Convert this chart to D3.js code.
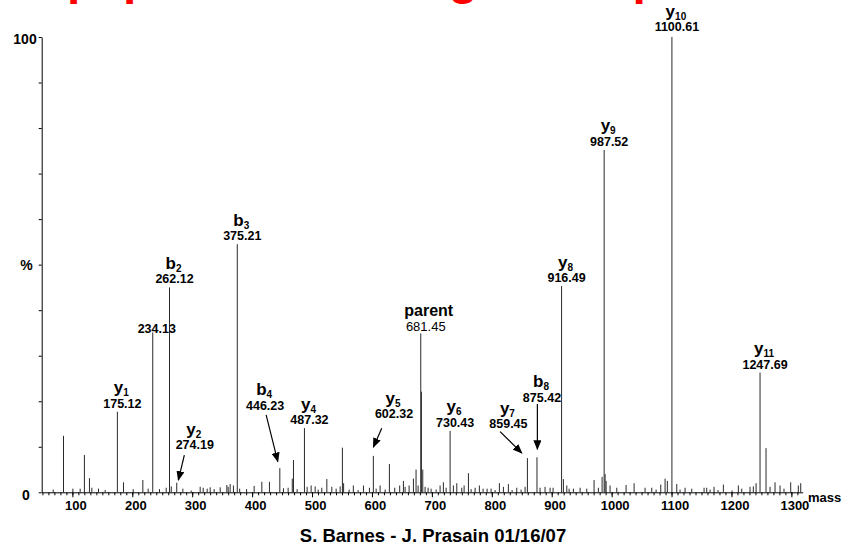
<!DOCTYPE html>
<html><head><meta charset="utf-8">
<script src="https://cdn.jsdelivr.net/npm/d3@7"></script>
<style>
body{margin:0;background:#fff;}
svg{display:block;font-family:Arial,"Liberation Sans",sans-serif;}
</style>
</head><body>
<svg id="chart" width="843" height="550"></svg>
<script>
// ---------------- DATA ----------------
const titleText = "peptide mass fragment spectrum";
const footerText = "S. Barnes - J. Prasain 01/16/07";
const xAxisLabel = "mass";
const xTickValues = [100,200,300,400,500,600,700,800,900,1000,1100,1200,1300];
const yTickValues = [0,10,20,30,40,50,60,70,80,90,100];
const yTickLabels = ["0","%","100"];      // shown at 0, 50, 100
const yTickLabelValues = [0,50,100];

// every peak of the spectrum: m/z and relative intensity (%)
const peakMass = [68.0,85.2,100.8,113.0,120.1,128.5,132.5,143.6,154.8,175.12,185.3,201.5,217.6,226.5,234.13,245.4,256.6,262.12,265.0,274.19,284.4,298.3,313.3,318.3,325.0,330.0,336.6,346.7,357.8,360.0,363.3,368.8,375.21,379.2,390.8,403.4,416.2,428.9,446.23,452.3,460.1,467.0,469.0,475.1,487.32,491.8,498.5,505.2,510.2,516.3,524.7,533.0,540.2,546.9,550.7,552.7,561.9,568.9,576.9,585.8,595.8,602.32,607.0,613.6,622.0,629.1,638.0,646.3,652.5,655.3,662.0,669.2,673.6,677.0,681.45,682.5,684.8,688.7,693.7,698.7,707.1,713.7,719.2,723.8,730.43,735.9,741.6,749.9,753.8,761.0,765.5,772.2,779.3,785.5,792.2,798.8,805.5,812.7,819.4,827.7,833.9,841.7,848.9,855.6,859.45,875.42,880.6,888.9,897.3,902.3,916.49,919.5,925.2,929.0,936.2,947.4,958.5,970.7,977.9,984.1,987.52,989.1,990.8,997.4,1008.6,1024.1,1037.5,1055.8,1067.0,1074.2,1082.0,1089.2,1093.0,1100.61,1108.7,1114.2,1122.6,1133.7,1154.3,1158.7,1164.3,1170.9,1177.6,1186.5,1201.0,1211.5,1217.2,1231.0,1236.5,1241.1,1247.69,1257.7,1264.4,1272.7,1281.1,1287.7,1298.9,1311.6,1315.6];
const peakIntensity = [0.6,12.4,0.8,0.8,8.2,3.1,1.0,0.8,0.5,17.7,2.2,0.7,2.7,0.8,35.1,0.7,1.0,45.0,1.3,2.1,0.8,0.4,1.2,1.0,0.8,1.1,0.7,1.1,1.6,1.2,1.8,1.5,54.5,0.8,0.7,1.4,2.3,2.3,5.3,0.9,1.0,3.0,7.1,0.7,14.1,1.2,1.5,1.3,0.6,1.0,2.9,1.2,0.8,1.3,9.8,2.0,0.6,1.5,0.5,1.5,1.0,8.0,0.8,1.5,0.6,6.2,1.0,1.5,2.5,1.2,1.5,3.0,5.0,1.5,34.9,22.1,5.0,1.2,1.0,0.8,0.6,1.5,2.2,1.0,13.5,1.5,2.0,1.0,1.5,4.2,0.7,1.0,1.5,0.8,0.8,0.8,0.5,2.0,1.2,1.8,0.5,1.0,0.6,1.2,7.5,7.7,1.0,1.2,1.0,1.0,45.3,2.9,1.5,0.8,0.8,1.0,0.8,2.7,1.0,3.4,75.2,4.0,2.5,1.5,1.0,1.6,2.0,1.0,1.0,0.6,1.7,3.0,2.5,100,1.8,0.6,1.0,0.8,1.0,1.0,0.6,1.2,0.5,1.7,0.4,1.5,0.8,1.2,1.3,2.0,26.3,9.7,1.2,2.2,1.5,0.8,2.2,1.5,2.0];

// annotated peaks
const labelMass = [1100.61,987.52,916.49,375.21,262.12,234.13,681.45,1247.69,175.12,487.32,730.43,875.42,859.45,602.32,446.23,274.19];
const labelIntensity = [100,75.2,45.3,54.5,45.0,35.1,34.9,26.3,17.7,14.1,13.5,7.7,7.5,8.0,5.3,2.1];
const labelIon = ["y","y","y","b","b","","parent","y","y","y","y","b","y","y","b","y"];
const labelSub = ["10","9","8","3","2","","","11","1","4","6","8","7","5","4","2"];
const labelText = ["1100.61","987.52","916.49","375.21","262.12","234.13","681.45","1247.69","175.12","487.32","730.43","875.42","859.45","602.32","446.23","274.19"];

// ---------------- LAYOUT / STYLE ----------------
const placement = {
  "1100.61": {dx:5, dy:-6},
  "234.13": {dx:4, dy:0.5},
  "681.45": {dx:5, dy:-2.5},
  "875.42": {dx:5, dy:-55.6, arrow:[[0.4,-53.3],[0.4,-8]]},
  "859.45": {dx:-19, dy:-30, arrow:[[-27.3,-26.6],[-5.6,-5]]},
  "602.32": {dx:20.7, dy:-37.4, arrow:[[8.4,-27.7],[0,-8.7]]},
  "446.23": {dx:-14.7, dy:-58.3, arrow:[[-13.7,-53.3],[-2,-6.6]]},
  "274.19": {dx:18, dy:-33.7, arrow:[[7.6,-27.7],[1.6,-2.7]]}
};

const svg = d3.select("#chart");
const x = d3.scaleLinear().domain([48.8, 1318.9]).range([41.7, 802.7]);
const y = d3.scaleLinear().domain([0, 100]).range([492.3, 37]);

// title (cut off at the top edge, as in the source slide)
svg.append("text").attr("x", 67).attr("y", -6)
  .attr("fill", "#ff0000").attr("font-weight", "bold").attr("font-size", 48)
  .text(titleText);

// arrow marker
svg.append("defs").append("marker")
  .attr("id", "ah").attr("markerUnits", "userSpaceOnUse")
  .attr("markerWidth", 10).attr("markerHeight", 8)
  .attr("refX", 9).attr("refY", 4).attr("orient", "auto")
  .append("path").attr("d", "M0,0 L10,4 L0,8 Z").attr("fill", "#000");

// peaks
const peaks = peakMass.map((m, i) => ({m, v: peakIntensity[i]}));
svg.append("g").selectAll("line").data(peaks).join("line")
  .attr("x1", d => x(d.m)).attr("x2", d => x(d.m))
  .attr("y1", y(0)).attr("y2", d => y(d.v))
  .attr("stroke", "#2a2a2a").attr("stroke-width", 1);

// axes
const xMinor = d3.range(50, 1320, 10);
svg.append("g").attr("transform", `translate(0,${y(0)})`)
  .call(d3.axisBottom(x).tickValues(xMinor).tickSize(3).tickSizeOuter(0).tickFormat(""))
  .call(g => g.select(".domain").attr("stroke", "#000"))
  .call(g => g.selectAll(".tick line").attr("stroke", "#000"));
svg.append("g").attr("transform", `translate(0,${y(0)})`)
  .call(d3.axisBottom(x).tickValues(xTickValues).tickSize(5).tickPadding(3.5).tickSizeOuter(0).tickFormat(d3.format("d")))
  .call(g => g.select(".domain").remove())
  .call(g => g.selectAll(".tick line").attr("stroke", "#000"))
  .call(g => g.selectAll(".tick text").attr("dx", 3).attr("font-family", "Arial, 'Liberation Sans', sans-serif")
     .attr("font-size", 13).attr("font-weight", "bold").attr("fill", "#000"));

svg.append("g").attr("transform", `translate(${x(48.8)},0)`)
  .call(d3.axisLeft(y).tickValues(yTickValues).tickSize(3).tickSizeOuter(0).tickFormat(""))
  .call(g => g.select(".domain").attr("stroke", "#000"))
  .call(g => g.selectAll(".tick line").attr("stroke", "#000"));

const yLabelStyle = {"100": {dx:-5, dy:7}, "%": {dx:-9, dy:5}, "0": {dx:-12, dy:8}};
yTickLabelValues.forEach((v, i) => {
  const t = yTickLabels[i], s = yLabelStyle[t];
  svg.append("text").attr("x", x(48.8) + s.dx).attr("y", y(v) + s.dy)
    .attr("text-anchor", "end").attr("font-weight", "bold").attr("font-size", 14).text(t);
});

svg.append("text").attr("x", 808).attr("y", y(0) + 9.5)
  .attr("font-weight", "bold").attr("font-size", 13).text(xAxisLabel);

// labels
labelMass.forEach((m, i) => {
  const px = x(m), py = y(labelIntensity[i]);
  const p = placement[labelText[i]] || {dx:5, dy:-4};
  const mx = px + p.dx, my = py + p.dy;
  const ion = labelIon[i];
  const g = svg.append("g");
  if (ion === "parent") {
    g.append("text").attr("x", mx + 3).attr("y", my - 15)
      .attr("text-anchor", "middle").attr("font-weight", "bold").attr("font-size", 16).text("parent");
    g.append("text").attr("x", mx).attr("y", my)
      .attr("text-anchor", "middle").attr("font-size", 13).text(labelText[i]);
  } else {
    if (ion) {
      const t = g.append("text").attr("x", mx - 1).attr("y", my - 14.5)
        .attr("text-anchor", "middle").attr("font-weight", "bold");
      t.append("tspan").attr("font-size", 17).text(ion);
      t.append("tspan").attr("font-size", 10).attr("dy", 3).text(labelSub[i]);
    }
    g.append("text").attr("x", mx).attr("y", my)
      .attr("text-anchor", "middle").attr("font-weight", "bold").attr("font-size", 12.5).text(labelText[i]);
  }
  if (p.arrow) {
    g.append("line")
      .attr("x1", px + p.arrow[0][0]).attr("y1", py + p.arrow[0][1])
      .attr("x2", px + p.arrow[1][0]).attr("y2", py + p.arrow[1][1])
      .attr("stroke", "#000").attr("stroke-width", 1.2).attr("marker-end", "url(#ah)");
  }
});

// footer
svg.append("text").attr("x", 433).attr("y", 541.7).attr("text-anchor", "middle")
  .attr("font-weight", "bold").attr("font-size", 18.5).text(footerText);
</script>
</body></html>
